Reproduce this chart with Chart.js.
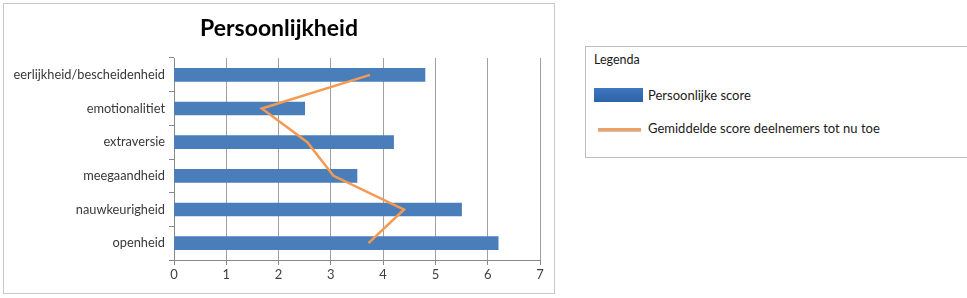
<!DOCTYPE html>
<html>
<head>
<meta charset="utf-8">
<script src="https://cdn.jsdelivr.net/npm/chart.js@4"></script>
<style>
  html, body { margin: 0; padding: 0; background: #ffffff; width: 967px; height: 298px; overflow: hidden; }
  #frame { position: absolute; left: 3px; top: 3px; width: 550px; height: 289px; border: 1px solid #c8c8c8; background: #fff; }
  #wrap { position: absolute; left: 4px; top: 4px; width: 549px; height: 288px; }
  #title { position: absolute; left: 0; top: 13px; width: 558px; text-align: center; line-height: 28px;
           font-family: Lato, "Open Sans", sans-serif; font-size: 23px; font-weight: bold; color: #000; }
  #legend { position: absolute; left: 585px; top: 46px; width: 400px; height: 110px; border: 1px solid #bdbdbd; background: #fff;
            font-family: Lato, "Open Sans", sans-serif; font-size: 13px; color: #1a1a1a; }
  #legend .title { position: absolute; left: 8px; top: 5px; font-size: 12.5px; }
  #legend .row { position: absolute; left: 8px; height: 16px; }
  #legend .sw { position: absolute; left: 0; top: 0; width: 49px; height: 14px; background: linear-gradient(#3f78c0, #2d62a8); }
  #legend .ln { position: absolute; left: 4px; top: 7px; width: 43px; height: 3px; background: #f0a060; box-shadow: 0 1px 1px rgba(0,0,0,0.25); }
  #legend .txt { position: absolute; left: 54px; top: -1px; white-space: nowrap; }
</style>
</head>
<body>
<div id="frame"></div>
<div id="wrap"><canvas id="c" width="549" height="288"></canvas></div>
<div id="title">Persoonlijkheid</div>
<div id="legend">
  <div class="title">Legenda</div>
  <div class="row" style="top:41px"><div class="sw"></div><div class="txt">Persoonlijke score</div></div>
  <div class="row" style="top:74px"><div class="ln"></div><div class="txt">Gemiddelde score deelnemers tot nu toe</div></div>
</div>
<script>
const categories = ["eerlijkheid/bescheidenheid", "emotionalitiet", "extraversie", "meegaandheid", "nauwkeurigheid", "openheid"];
const personalScores = [4.8, 2.5, 4.2, 3.5, 5.5, 6.2];
const averageScores = [3.75, 1.68, 2.55, 3.05, 4.4, 3.72];
const xMin = 0, xMax = 7, xStep = 1;

const FONT = 'Lato, "Open Sans", sans-serif';

new Chart(document.getElementById('c'), {
  data: {
    labels: categories,
    datasets: [
      {
        type: 'line',
        label: 'Gemiddelde score deelnemers tot nu toe',
        data: averageScores,
        indexAxis: 'y',
        borderColor: '#f49a52',
        borderWidth: 2.5,
        pointRadius: 0,
        tension: 0,
        fill: false,
        order: 0
      },
      {
        type: 'bar',
        label: 'Persoonlijke score',
        data: personalScores,
        indexAxis: 'y',
        backgroundColor: '#4a7ebb',
        borderWidth: 0,
        barThickness: 13,
        order: 1
      }
    ]
  },
  options: {
    indexAxis: 'y',
    responsive: false,
    animation: false,
    devicePixelRatio: 1,
    layout: { padding: { left: 0, right: 13, top: 54, bottom: 0 } },
    plugins: {
      legend: { display: false },
      tooltip: { enabled: false },
      title: { display: false }
    },
    scales: {
      x: {
        type: 'linear',
        min: xMin,
        max: xMax,
        ticks: { stepSize: xStep, color: '#404040', font: { family: FONT, size: 13 }, padding: 2 },
        grid: { color: '#a0a0a0', lineWidth: 1, drawTicks: true, tickLength: 5, tickColor: '#888888' },
        border: { color: '#888888' },
        afterFit: (s) => { s.height = 32; }
      },
      y: {
        type: 'category',
        offset: true,
        ticks: { color: '#383838', font: { family: FONT, size: 12.8 }, padding: 4 },
        grid: { offset: true, drawOnChartArea: false, drawTicks: true, tickLength: 5, color: '#888888' },
        border: { color: '#888888' },
        afterFit: (s) => { s.width = 170; }
      }
    }
  }
});
</script>
</body>
</html>
